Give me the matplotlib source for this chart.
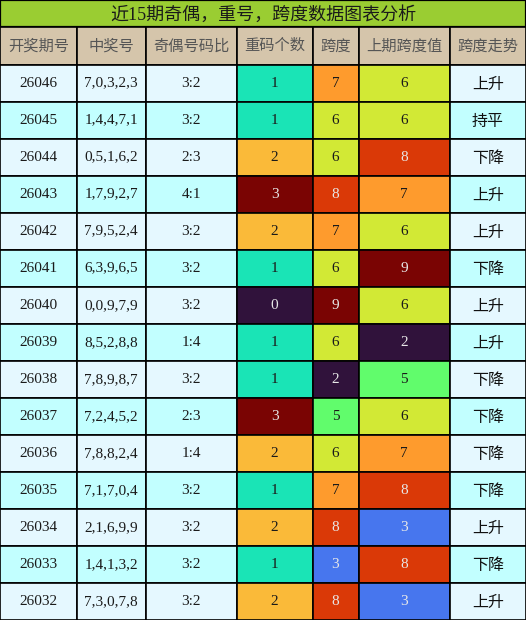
import matplotlib
matplotlib.use("Agg")
import matplotlib.pyplot as plt
from matplotlib.patches import Rectangle
from matplotlib import colormaps

# ─── DATA ─────────────────────────────────────────────
TITLE = "近15期奇偶，重号，跨度数据图表分析"
HEADERS = ["开奖期号", "中奖号", "奇偶号码比", "重码个数", "跨度", "上期跨度值", "跨度走势"]

issues = ["26046", "26045", "26044", "26043", "26042", "26041", "26040", "26039",
          "26038", "26037", "26036", "26035", "26034", "26033", "26032"]
numbers = ["7,0,3,2,3", "1,4,4,7,1", "0,5,1,6,2", "1,7,9,2,7", "7,9,5,2,4",
           "6,3,9,6,5", "0,0,9,7,9", "8,5,2,8,8", "7,8,9,8,7", "7,2,4,5,2",
           "7,8,8,2,4", "7,1,7,0,4", "2,1,6,9,9", "1,4,1,3,2", "7,3,0,7,8"]
odd_even = ["3:2", "3:2", "2:3", "4:1", "3:2", "3:2", "3:2", "1:4",
            "3:2", "2:3", "1:4", "3:2", "3:2", "3:2", "3:2"]
repeats = [1, 1, 2, 3, 2, 1, 0, 1, 1, 3, 2, 1, 2, 1, 2]
spans = [7, 6, 6, 8, 7, 6, 9, 6, 2, 5, 6, 7, 8, 3, 8]
prev_spans = [6, 6, 8, 7, 6, 9, 6, 2, 5, 6, 7, 8, 3, 8, 3]
trends = ["上升", "持平", "下降", "上升", "上升", "下降", "上升", "上升",
          "下降", "下降", "下降", "下降", "上升", "下降", "上升"]

# ─── LAYOUT ───────────────────────────────────────────
W, H = 526, 620
COL_X = [0, 77, 145.5, 236.5, 312.5, 358.5, 449.5, 526]
TITLE_H = 27
HEAD_BOT = 64.5
ROW_H = (H - HEAD_BOT) / len(issues)

SERIF = ["Liberation Serif", "Noto Sans CJK SC"]
CJK = ["Noto Sans CJK SC", "DejaVu Sans"]
ROW_BG = ["#e5f8ff", "#c2ffff"]
cmap = colormaps["turbo"]

fig = plt.figure(figsize=(W / 100, H / 100), dpi=100)
ax = fig.add_axes([0, 0, 1, 1])
ax.set_xlim(0, W)
ax.set_ylim(H, 0)
ax.axis("off")

# title bar
ax.add_patch(Rectangle((0, 0), W, TITLE_H, facecolor="#9acd32", edgecolor="black", lw=1.6))
ax.text(W / 2, TITLE_H / 2 + 1, TITLE, ha="center", va="center", fontsize=13,
        family=SERIF, color="#1a1a1a")

# header row
for i, h in enumerate(HEADERS):
    x0, x1 = COL_X[i], COL_X[i + 1]
    ax.add_patch(Rectangle((x0, TITLE_H), x1 - x0, HEAD_BOT - TITLE_H,
                           facecolor="#d5c5ab", edgecolor="black", lw=1.2))
    ax.text((x0 + x1) / 2, (TITLE_H + HEAD_BOT) / 2, h, ha="center", va="center",
            fontsize=11, family=CJK, color="#555555")


def norm(vals):
    lo, hi = min(vals), max(vals)
    return [(v - lo) / (hi - lo) for v in vals]


def text_color(rgba):
    r, g, b = rgba[:3]
    lum = 0.299 * r + 0.587 * g + 0.114 * b
    return "#e8e8e8" if lum < 0.5 else "#1a1a1a"


heat_cols = {3: (repeats, norm(repeats)), 4: (spans, norm(spans)), 5: (prev_spans, norm(prev_spans))}

for r in range(len(issues)):
    y0 = HEAD_BOT + r * ROW_H
    bg = ROW_BG[r % 2]
    row_vals = [issues[r], numbers[r], odd_even[r], None, None, None, trends[r]]
    for c in range(7):
        x0, x1 = COL_X[c], COL_X[c + 1]
        cx, cy = (x0 + x1) / 2, y0 + ROW_H / 2
        if c in heat_cols:
            vals, nv = heat_cols[c]
            col = cmap(nv[r])
            ax.add_patch(Rectangle((x0, y0), x1 - x0, ROW_H, facecolor=col,
                                   edgecolor="black", lw=1.2))
            ax.text(cx, cy, str(vals[r]), ha="center", va="center", fontsize=11,
                    family=SERIF, color=text_color(col))
        else:
            ax.add_patch(Rectangle((x0, y0), x1 - x0, ROW_H, facecolor=bg,
                                   edgecolor="black", lw=1.2))
            if c == 6:
                ax.text(cx, cy + 1, row_vals[c], ha="center", va="center", fontsize=11.5,
                        family=CJK, color="#111111")
            else:
                ax.text(cx, cy, row_vals[c], ha="center", va="center", fontsize=11,
                        family=SERIF, color="#1a1a1a")

fig.savefig("out.png", dpi=100)
